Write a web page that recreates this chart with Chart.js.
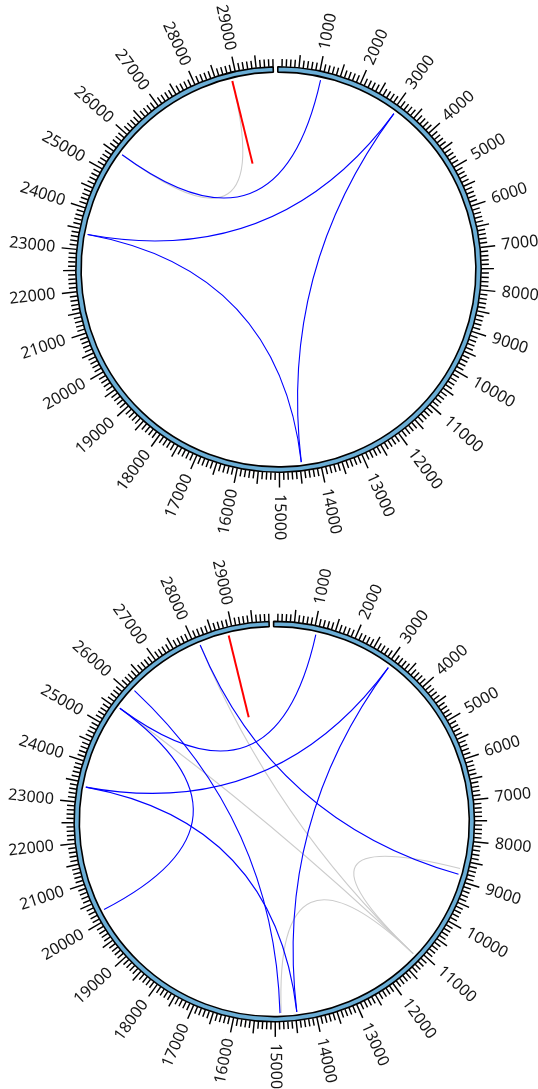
<!DOCTYPE html>
<html>
<head>
<meta charset="utf-8">
<script src="https://cdn.jsdelivr.net/npm/chart.js@4.4.1/dist/chart.umd.min.js"></script>
<style>
  html, body { margin: 0; padding: 0; background: #fff; width: 538px; height: 1089px; overflow: hidden; }
  .panel { position: absolute; left: 0; }
  #panelTop { top: 0; }
  #panelBottom { top: 540px; }
  canvas { display: block; }
</style>
</head>
<body>
<div class="panel" id="panelTop"><canvas id="genomeTop" width="538" height="540"></canvas></div>
<div class="panel" id="panelBottom"><canvas id="genomeBottom" width="538" height="549"></canvas></div>
<script>
// Genome length (bp) shown on the circular axis
const GENOME_LENGTH = 29903;

// Labelled axis positions (bp)
const tickLabels = [1000, 2000, 3000, 4000, 5000, 6000, 7000, 8000, 9000, 10000,
  11000, 12000, 13000, 14000, 15000, 16000, 17000, 18000, 19000, 20000,
  21000, 22000, 23000, 24000, 25000, 26000, 27000, 28000, 29000];
const minorTickStep = 100;
const midTickStep = 500;

// Upper panel: links between genome positions (bp)
const blueLinksTop = [[1060, 25550], [3060, 23390], [3060, 14460], [23390, 14460]];
const grayLinksTop = [[28880, 25550]];
const markersTop = [28880];

// Lower panel: links between genome positions (bp)
const blueLinksBottom = [[1060, 25550], [3060, 23390], [3060, 14460], [23390, 14460],
  [28130, 8850], [26120, 14880], [25550, 20250]];
const grayLinksBottom = [[28130, 11150], [25550, 11150], [8700, 11150], [14850, 11150]];
const markersBottom = [28880];

const RING_COLOR = '#6baed6';
const LABEL_FONT = '"Noto Sans", "Open Sans", sans-serif';

function angleAt(arc, pos) {
  return arc.startAngle + (pos / GENOME_LENGTH) * (arc.endAngle - arc.startAngle);
}
function polar(arc, pos, r) {
  const a = angleAt(arc, pos);
  return { x: arc.x + r * Math.cos(a), y: arc.y + r * Math.sin(a) };
}

function genomeTrackPlugin(cfg) {
  return {
    id: 'genomeTrack',
    afterDatasetsDraw(chart) {
      const arc = chart.getDatasetMeta(0).data[0];
      const ctx = chart.ctx;
      const k = cfg.scale;
      const outer = arc.outerRadius + 0.75;
      const linkR = cfg.linkRadius;

      ctx.save();
      // links: quadratic curves bent through the circle centre
      const drawLinks = (links, color, width) => {
        ctx.strokeStyle = color;
        ctx.lineWidth = width;
        links.forEach(([a, b]) => {
          const p0 = polar(arc, a, linkR);
          const p1 = polar(arc, b, linkR);
          ctx.beginPath();
          ctx.moveTo(p0.x, p0.y);
          ctx.quadraticCurveTo(arc.x, arc.y, p1.x, p1.y);
          ctx.stroke();
        });
      };
      drawLinks(cfg.gray, '#cccccc', 1.1);
      drawLinks(cfg.blue, '#0000ff', 1.1);

      // highlighted positions as radial strokes
      ctx.strokeStyle = '#ff0000';
      ctx.lineWidth = 2;
      cfg.markers.forEach(pos => {
        const p0 = polar(arc, pos, linkR);
        const p1 = polar(arc, pos, cfg.markerInner);
        ctx.beginPath();
        ctx.moveTo(p0.x, p0.y);
        ctx.lineTo(p1.x, p1.y);
        ctx.stroke();
      });

      // axis ticks
      ctx.strokeStyle = '#000';
      ctx.lineWidth = 1.45;
      ctx.beginPath();
      for (let p = minorTickStep; p < GENOME_LENGTH; p += minorTickStep) {
        let len = 7 * k;
        if (p % 1000 === 0) len = 14.5 * k;
        else if (p % midTickStep === 0) len = 12 * k;
        const q0 = polar(arc, p, outer - 0.5);
        const q1 = polar(arc, p, outer + len);
        ctx.moveTo(q0.x, q0.y);
        ctx.lineTo(q1.x, q1.y);
      }
      ctx.stroke();

      // tick labels, oriented radially and kept upright
      ctx.fillStyle = '#161616';
      ctx.font = (16.2 * k).toFixed(2) + 'px ' + LABEL_FONT;
      ctx.textBaseline = 'middle';
      const labelR = outer + 21 * k;
      tickLabels.forEach(v => {
        const a = angleAt(arc, v);
        const p = polar(arc, v, labelR);
        let theta = (a + Math.PI / 2) % (2 * Math.PI);
        if (theta < 0) theta += 2 * Math.PI;
        ctx.save();
        ctx.translate(p.x, p.y);
        if (theta < Math.PI) {
          ctx.rotate(a);
          ctx.textAlign = 'left';
        } else {
          ctx.rotate(a + Math.PI);
          ctx.textAlign = 'right';
        }
        ctx.fillText(String(v), 0, 0);
        ctx.restore();
      });
      ctx.restore();
    }
  };
}

function makeGenomeChart(canvasId, cfg) {
  return new Chart(document.getElementById(canvasId), {
    type: 'doughnut',
    data: {
      labels: ['genome'],
      datasets: [{
        data: [GENOME_LENGTH],
        backgroundColor: RING_COLOR,
        borderColor: '#000000',
        borderWidth: 1.6,
        borderAlign: 'center'
      }]
    },
    options: {
      responsive: false,
      animation: false,
      events: [],
      rotation: -0.2,
      circumference: 358.7,
      radius: cfg.ringOuter,
      cutout: (cfg.ringInner / cfg.ringOuter * 100).toFixed(3) + '%',
      layout: { padding: cfg.padding },
      plugins: { legend: { display: false }, tooltip: { enabled: false } }
    },
    plugins: [genomeTrackPlugin(cfg)]
  });
}

makeGenomeChart('genomeTop', {
  padding: { left: 19, right: 0, top: 0, bottom: 1 },
  ringOuter: 202.7, ringInner: 197.4, scale: 1,
  linkRadius: 194, markerInner: 109,
  blue: blueLinksTop, gray: grayLinksTop, markers: markersTop
});

makeGenomeChart('genomeBottom', {
  padding: { left: 10.6, right: 0, top: 14.2, bottom: 0 },
  ringOuter: 200.2, ringInner: 195.0, scale: 0.988,
  linkRadius: 191.6, markerInner: 107.5,
  blue: blueLinksBottom, gray: grayLinksBottom, markers: markersBottom
});
</script>
</body>
</html>
